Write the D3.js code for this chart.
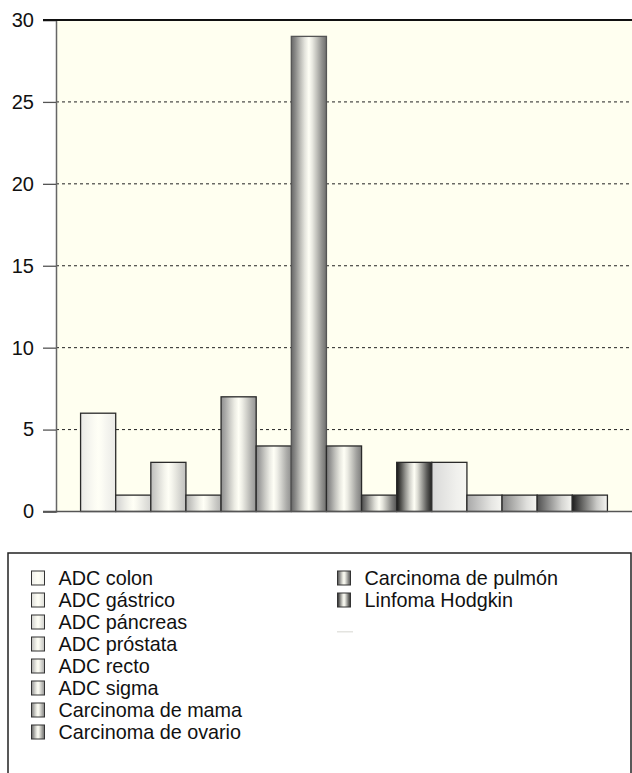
<!DOCTYPE html>
<html>
<head>
<meta charset="utf-8">
<script src="https://cdn.jsdelivr.net/npm/d3@7/dist/d3.min.js"></script>
<style>
  html, body { margin: 0; padding: 0; background: #ffffff; }
  svg { display: block; font-family: "Liberation Sans", Arial, Helvetica, sans-serif; }
</style>
</head>
<body>
<svg id="chart" width="632" height="773"></svg>
<script>
// Number of cases per bar
const values = [6, 1, 3, 1, 7, 4, 29, 4, 1, 3, 3, 1, 1, 1, 1];
// Diagnoses in the legend
const diagnoses = [
  "ADC colon", "ADC gástrico", "ADC páncreas", "ADC próstata", "ADC recto",
  "ADC sigma", "Carcinoma de mama", "Carcinoma de ovario",
  "Carcinoma de pulmón", "Linfoma Hodgkin"
];
const yTicks = [0, 5, 10, 15, 20, 25, 30];

// Shading of each bar: edge tone and gradient kind (cylinder or left-to-right)
const barEdge = ["#e9e9e6", "#d2d2d0", "#bdbdbb", "#b0b0ae", "#8e8e8e", "#8a8a8a",
                 "#666666", "#777777", "#4a4a4a", "#151515",
                 "#d8d8d8", "#a8a8a8", "#858585", "#505050", "#1e1e1e"];
const barKind = ["cyl", "cyl", "cyl", "cyl", "cyl", "cyl", "cyl", "cyl", "cyl", "cyl",
                 "lin", "lin", "lin", "lin", "lin"];
const legendEdge = ["#eeeeea", "#dcdcd8", "#cfcfcc", "#bdbdbb", "#a9a9a9",
                    "#929292", "#7d7d7d", "#666666", "#4c4c4c", "#262626"];

const svg = d3.select("#chart");
const defs = svg.append("defs");

function cylinder(id, edge) {
  const g = defs.append("linearGradient").attr("id", id)
    .attr("x1", "0").attr("x2", "1").attr("y1", "0").attr("y2", "0");
  const mix = d3.interpolateRgb(edge, "#fffff6");
  const stops = [[0, 0], [0.12, 0.25], [0.25, 0.55], [0.38, 0.82], [0.5, 1],
                 [0.6, 0.85], [0.72, 0.6], [0.86, 0.3], [1, 0.05]];
  stops.forEach(([o, t]) => g.append("stop").attr("offset", o).attr("stop-color", mix(t)));
}
function linear(id, edge) {
  const g = defs.append("linearGradient").attr("id", id)
    .attr("x1", "0").attr("x2", "1").attr("y1", "0").attr("y2", "0");
  const mix = d3.interpolateRgb(edge, "#f6f6f2");
  [[0, 0], [0.3, 0.35], [0.7, 0.8], [1, 1]].forEach(([o, t]) =>
    g.append("stop").attr("offset", o).attr("stop-color", mix(t)));
}
values.forEach((v, i) => (barKind[i] === "cyl" ? cylinder : linear)("bar" + i, barEdge[i]));
legendEdge.forEach((c, i) => cylinder("leg" + i, c));

// Plot area
const plot = { left: 56, right: 632, top: 20, bottom: 511.5 };

const x = d3.scaleBand()
  .domain(d3.range(values.length))
  .range([plot.left, plot.right])
  .paddingInner(0)
  .paddingOuter(0.7);

const y = d3.scaleLinear()
  .domain([0, 30])
  .range([plot.bottom, plot.top]);

svg.append("rect")
  .attr("x", plot.left).attr("y", plot.top)
  .attr("width", plot.right - plot.left).attr("height", plot.bottom - plot.top)
  .attr("fill", "#fffff0");

// Dashed gridlines
svg.append("g")
  .selectAll("line")
  .data(yTicks.filter(t => t > 0 && t < 30))
  .join("line")
  .attr("x1", plot.left).attr("x2", plot.right)
  .attr("y1", d => y(d)).attr("y2", d => y(d))
  .attr("stroke", "#222").attr("stroke-width", 1)
  .attr("stroke-dasharray", "3,3");

// Bars
svg.append("g")
  .selectAll("rect")
  .data(values)
  .join("rect")
  .attr("x", (d, i) => x(i))
  .attr("y", d => y(d))
  .attr("width", x.bandwidth())
  .attr("height", d => y(0) - y(d))
  .attr("fill", (d, i) => `url(#bar${i})`)
  .attr("stroke", (d, i) => i === 6 ? "#555" : "#2a2a2a")
  .attr("stroke-width", 1.3);

// Y axis
const yAxis = d3.axisLeft(y).tickValues(yTicks).tickSize(13).tickPadding(9);
const ya = svg.append("g")
  .attr("transform", `translate(${plot.left},0)`)
  .call(yAxis);
ya.select(".domain").attr("stroke", "#666").attr("stroke-width", 1.5);
ya.selectAll(".tick line").attr("stroke", "#555").attr("stroke-width", 1.3);
ya.selectAll(".tick text")
  .attr("font-size", 20).attr("fill", "#111")
  .attr("font-family", "Liberation Sans, Arial, sans-serif");

// Top frame line and baseline
svg.append("line")
  .attr("x1", 43).attr("x2", plot.right)
  .attr("y1", y(30)).attr("y2", y(30))
  .attr("stroke", "#111").attr("stroke-width", 2);
svg.append("line")
  .attr("x1", 43).attr("x2", plot.right)
  .attr("y1", y(0)).attr("y2", y(0))
  .attr("stroke", "#555").attr("stroke-width", 1.5);

// Legend box
svg.append("path")
  .attr("d", "M8,773 V553 H631 V773")
  .attr("fill", "none").attr("stroke", "#222").attr("stroke-width", 1.5);

const perCol = 8;
const legend = svg.append("g")
  .selectAll("g")
  .data(diagnoses)
  .join("g")
  .attr("transform", (d, i) => {
    const col = Math.floor(i / perCol), row = i % perCol;
    return `translate(${col === 0 ? 31.5 : 337.5},${578 + row * 22})`;
  });
legend.append("rect")
  .attr("x", 0).attr("y", -7).attr("width", 13).attr("height", 14)
  .attr("fill", (d, i) => `url(#leg${i})`)
  .attr("stroke", "#333").attr("stroke-width", 1);
legend.append("text")
  .attr("x", 27).attr("y", 7)
  .attr("font-size", 19.8).attr("fill", "#111")
  .text(d => d);

// Faint trailing swatch row in the second column
svg.append("rect")
  .attr("x", 337).attr("y", 631).attr("width", 16).attr("height", 1.5)
  .attr("fill", "#e4e4e0");
</script>
</body>
</html>
